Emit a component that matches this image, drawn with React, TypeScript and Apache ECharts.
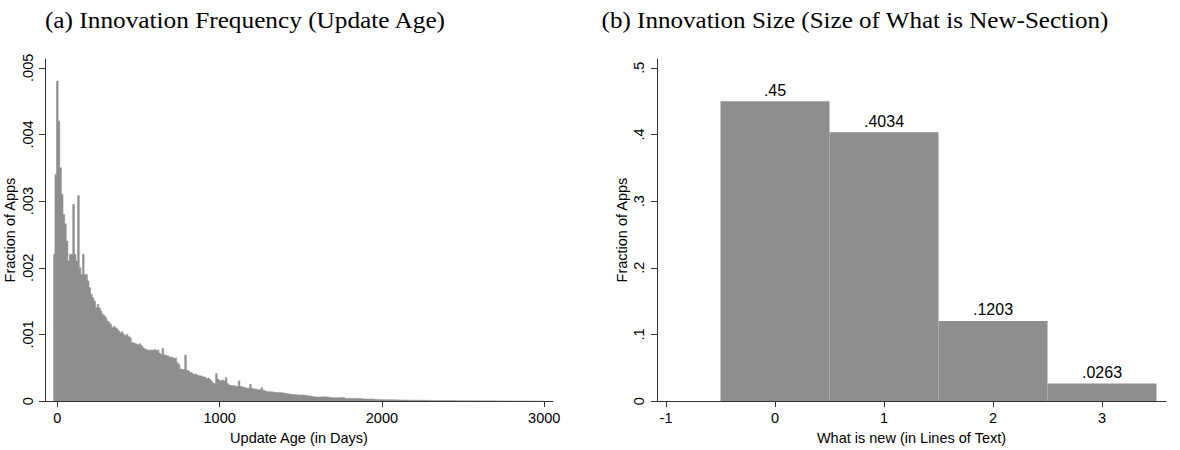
import React, { useEffect, useRef } from "react";
import * as echarts from "echarts";

// ---- Panel (a): histogram of update age (fraction of apps per bin) ----
const earlyBinStartDay = -25;
const earlyBinWidthDays = 10;
const earlyFractions = [
  0.0022, 0.0034, 0.0048, 0.0042, 0.0035, 0.0031, 0.0028, 0.00266, 0.0024, 0.0021,
  0.0022, 0.0022, 0.00295, 0.0022, 0.0021, 0.00308, 0.002, 0.0019, 0.0022, 0.0019,
  0.0019, 0.0018, 0.0017, 0.0016, 0.00155, 0.0015, 0.0014, 0.00145, 0.0014, 0.00135,
  0.0013, 0.00128, 0.00125, 0.0012, 0.00118, 0.00115, 0.0011, 0.00112, 0.0011, 0.00108,
  0.00105, 0.00102, 0.00104, 0.001, 0.00098, 0.001, 0.00097, 0.00095, 0.00088, 0.00087,
  0.00086, 0.00085, 0.00084, 0.00086, 0.00083, 0.0008, 0.00078, 0.00077, 0.00076, 0.00077,
  0.00076, 0.00077,
  0.00077, 0.00076, 0.00077, 0.00072, 0.0007, 0.00079, 0.00069, 0.00068, 0.00068, 0.00066,
  0.00066, 0.00065, 0.00064, 0.00065, 0.00058, 0.00055, 0.00048, 0.00047, 0.00048, 0.00069,
  0.00046, 0.00045, 0.00043, 0.00042, 0.0004, 0.00041, 0.00039, 0.00038, 0.00038, 0.00037,
  0.00036, 0.00036, 0.00034, 0.00035, 0.00033, 0.0003, 0.00027, 0.00026, 0.00041, 0.00033,
  0.00031, 0.00031, 0.00032, 0.0003, 0.00035, 0.00026, 0.00024, 0.00023, 0.00023, 0.00024,
  0.00022, 0.00022, 0.0003, 0.00022, 0.00021, 0.0002, 0.0002, 0.00019, 0.0002, 0.00025,
  0.00019, 0.00018, 0.00018, 0.00017, 0.00017, 0.00017, 0.0002, 0.00016, 0.00015, 0.00014,
];
const lateBinWidthDays = 25;
const lateFractions = [
  0.00014, 0.00013, 0.00013, 0.00012, 0.00011, 0.0001, 0.000095, 0.00009, 0.00009, 0.00008,
  0.00007, 0.00006, 0.00006, 0.000065, 0.00006, 0.00005, 0.00005, 0.00005, 0.000055, 0.00004,
  0.00004, 0.00004, 0.00004, 0.00003, 0.00003, 0.00003, 0.000025, 0.000022, 0.000022, 0.00002,
  0.00002, 0.000018, 0.000016, 0.000015, 0.000014, 0.000013, 0.000012, 0.000012, 0.000011, 0.00001,
  0.00001, 0.000009, 0.000009, 0.000008, 0.000008, 0.000008, 0.000007, 0.000006, 0.000006, 0.000005,
  0.000005, 0.000005, 0.000004, 0.000004, 0.000004, 0.000004, 0.000003, 0.000003, 0.000003, 0.000003,
  0.000002, 0.000002, 0.000002, 0.000002, 0.000001, 0.000001, 0.000001, 0.000001,
];
const ageTicks = [0, 1000, 2000, 3000];
const fractionTicksA = [0, 0.001, 0.002, 0.003, 0.004, 0.005];

// ---- Panel (b): size of What's New section ----
const linesOfText = [0, 1, 2, 3];
const fractionOfAppsB = [0.45, 0.4034, 0.1203, 0.0263];
const linesTicks = [-1, 0, 1, 2, 3];
const fractionTicksB = [0, 0.1, 0.2, 0.3, 0.4, 0.5];

const titleA = "(a) Innovation Frequency (Update Age)";
const titleB = "(b) Innovation Size (Size of What is New-Section)";

const GRAY = "#8e8e8e";
const AXIS = "#333";
const SANS = "'Liberation Sans', Arial, Helvetica, sans-serif";
const SERIF = "'Liberation Serif', 'Times New Roman', serif";
const FS = 14.5;

const stripZero = (v: number) => {
  if (v === 0) return "0";
  const s = String(+v.toFixed(6));
  return s.replace(/^0\./, ".").replace(/^-0\./, "-.");
};

export default function App() {
  const ref = useRef<HTMLDivElement>(null);
  useEffect(() => {
    if (!ref.current) return;
    const chart = echarts.init(ref.current, undefined, { renderer: "svg" });

    const histPoints: number[][] = [];
    earlyFractions.forEach((v, i) => histPoints.push([earlyBinStartDay + i * earlyBinWidthDays, v]));
    const lateStart = earlyBinStartDay + earlyFractions.length * earlyBinWidthDays;
    lateFractions.forEach((v, i) => histPoints.push([lateStart + i * lateBinWidthDays, v]));
    histPoints.push([lateStart + lateFractions.length * lateBinWidthDays, 0]);

    const axisCommon = {
      axisLine: { show: true, onZero: false, lineStyle: { color: AXIS, width: 1 } },
      splitLine: { show: false },
      nameLocation: "middle" as const,
      nameTextStyle: { fontFamily: SANS, fontSize: FS, color: "#000" },
    };
    const labelCommon = { fontFamily: SANS, fontSize: FS, color: "#000" };

    chart.setOption({
      animation: false,
      graphic: [
        {
          type: "text",
          x: 245,
          y: 20,
          scaleX: 1.1,
          style: {
            text: titleA,
            font: `23px ${SERIF}`,
            fill: "#000",
            textAlign: "center",
            textVerticalAlign: "middle",
          },
        },
        {
          type: "text",
          x: 855,
          y: 20,
          scaleX: 1.09,
          style: {
            text: titleB,
            font: `23px ${SERIF}`,
            fill: "#000",
            textAlign: "center",
            textVerticalAlign: "middle",
          },
        },
      ],
      grid: [
        { left: 45, top: 59, width: 508, height: 350 },
        { left: 657, top: 59, width: 509, height: 350 },
      ],
      xAxis: [
        {
          ...axisCommon,
          type: "value",
          gridIndex: 0,
          min: -76,
          max: 3054,
          name: "Update Age (in Days)",
          nameGap: 25,
          axisTick: { show: true, length: 6, customValues: ageTicks, lineStyle: { color: AXIS } },
          axisLabel: { ...labelCommon, customValues: ageTicks, margin: 9, formatter: (v: number) => String(v) },
        },
        {
          ...axisCommon,
          type: "value",
          gridIndex: 1,
          min: -1.0826,
          max: 3.587,
          name: "What is new (in Lines of Text)",
          nameGap: 25,
          axisTick: { show: true, length: 6, customValues: linesTicks, lineStyle: { color: AXIS } },
          axisLabel: { ...labelCommon, customValues: linesTicks, margin: 9, formatter: (v: number) => String(v) },
        },
      ],
      yAxis: [
        {
          ...axisCommon,
          type: "value",
          gridIndex: 0,
          min: 0,
          max: 0.005132,
          name: "Fraction of Apps",
          nameGap: 28,
          axisTick: { show: true, length: 6, customValues: fractionTicksA, lineStyle: { color: AXIS } },
          axisLabel: { ...labelCommon, customValues: fractionTicksA, rotate: 90, margin: 10, formatter: stripZero },
        },
        {
          ...axisCommon,
          type: "value",
          gridIndex: 1,
          min: 0,
          max: 0.5132,
          name: "Fraction of Apps",
          nameGap: 28,
          axisTick: { show: true, length: 6, customValues: fractionTicksB, lineStyle: { color: AXIS } },
          axisLabel: { ...labelCommon, customValues: fractionTicksB, rotate: 90, margin: 11, formatter: stripZero },
        },
      ],
      series: [
        {
          type: "line",
          xAxisIndex: 0,
          yAxisIndex: 0,
          data: histPoints,
          step: "end",
          symbol: "none",
          lineStyle: { color: GRAY, width: 0.6 },
          areaStyle: { color: GRAY, opacity: 1 },
          z: 1,
        },
        {
          type: "custom",
          xAxisIndex: 1,
          yAxisIndex: 1,
          data: linesOfText.map((x, i) => [x, fractionOfAppsB[i]]),
          renderItem: (params: any, api: any) => {
            const x = api.value(0);
            const y = api.value(1);
            const p0 = api.coord([x - 0.5, y]);
            const p1 = api.coord([x + 0.5, 0]);
            return {
              type: "group",
              children: [
                {
                  type: "rect",
                  shape: { x: p0[0], y: p0[1], width: p1[0] - p0[0], height: p1[1] - p0[1] },
                  style: { fill: GRAY },
                },
                {
                  type: "text",
                  x: (p0[0] + p1[0]) / 2,
                  y: p0[1] - 3,
                  style: {
                    text: stripZero(y),
                    font: `16px ${SANS}`,
                    fill: "#000",
                    textAlign: "center",
                    textVerticalAlign: "bottom",
                  },
                },
              ],
            };
          },
          z: 1,
        },
      ],
    });
    return () => chart.dispose();
  }, []);
  return (
    <div
      ref={ref}
      style={{ position: "fixed", left: 0, top: 0, width: 1180, height: 450, background: "#fff" }}
    />
  );
}
